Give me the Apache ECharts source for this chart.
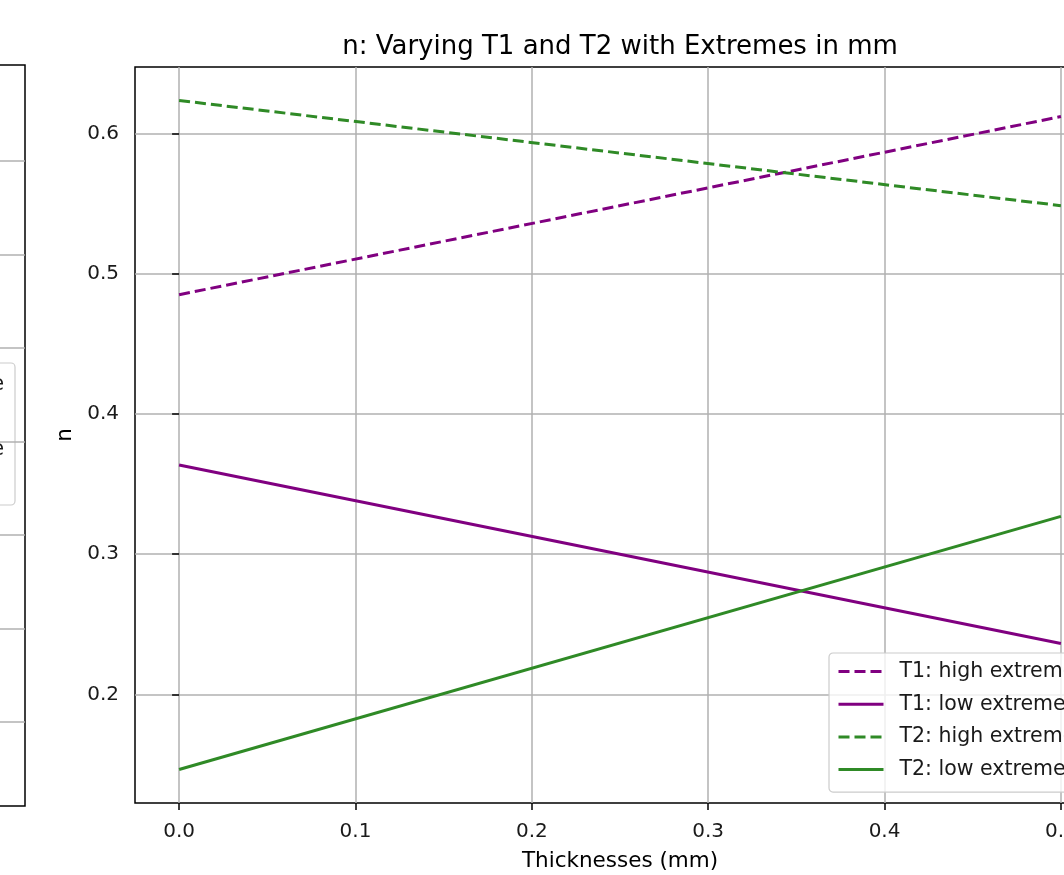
<!DOCTYPE html>
<html>
<head>
<meta charset="utf-8">
<style>html,body{margin:0;padding:0;background:#fff}#chart{width:1064px;height:875px}</style>
<script src="https://cdn.jsdelivr.net/npm/echarts@6/dist/echarts.min.js"></script>
</head>
<body>
<div id="chart"></div>
<script>
// ---- data ----
const thicknesses = [0.0, 0.5];
const t1High = [0.485, 0.612];
const t1Low = [0.3636, 0.2364];
const t2High = [0.6235, 0.5485];
const t2Low = [0.1465, 0.327];
const seriesNames = ['T1: high extreme', 'T1: low extreme', 'T2: high extreme', 'T2: low extreme'];
const xTicks = [0.0, 0.1, 0.2, 0.3, 0.4, 0.5];
const yTicks = [0.2, 0.3, 0.4, 0.5, 0.6];
const leftPanelTicks = [0, 1, 2, 3, 4, 5, 6];
const titleText = 'n: Varying T1 and T2 with Extremes in mm';
const xName = 'Thicknesses (mm)';
const yName = 'n';

const purple = '#800080';
const green = '#2f8a26';
const FONT = 'DejaVu Sans';

function pairs(ys) { return thicknesses.map((x, i) => [x, ys[i]]); }

// matplotlib-style 5% margins
const allY = [].concat(t1High, t1Low, t2High, t2Low);
const yMinD = Math.min(...allY), yMaxD = Math.max(...allY);
const yPad = (yMaxD - yMinD) * 0.05;
const xMinD = Math.min(...thicknesses), xMaxD = Math.max(...thicknesses);
const xPad = (xMaxD - xMinD) * 0.05;

const defs = [
  { name: seriesNames[0], data: t1High, color: purple, dashed: true },
  { name: seriesNames[1], data: t1Low, color: purple, dashed: false },
  { name: seriesNames[2], data: t2High, color: green, dashed: true },
  { name: seriesNames[3], data: t2Low, color: green, dashed: false }
];

const chart = echarts.init(document.getElementById('chart'), null, { renderer: 'canvas' });
chart.setOption({
  animation: false,
  backgroundColor: '#fff',
  textStyle: { fontFamily: FONT },
  title: {
    text: titleText,
    left: 615, top: 29, textAlign: 'center',
    textStyle: { fontFamily: FONT, fontSize: 26, fontWeight: 'normal', color: '#000' }
  },
  grid: [
    { left: 135, width: 970, top: 67, height: 736, outerBoundsMode: 'none', containLabel: false,
      show: true, borderColor: '#000', borderWidth: 1.5, backgroundColor: 'transparent' },
    { left: -600, width: 625, top: 65, height: 741, outerBoundsMode: 'none', containLabel: false,
      show: true, borderColor: '#000', borderWidth: 1.5, backgroundColor: 'transparent' }
  ],
  xAxis: [
    {
      gridIndex: 0, type: 'value',
      min: xMinD - xPad, max: xMaxD + xPad,
      name: xName, nameLocation: 'middle', nameGap: 47,
      nameTextStyle: { fontFamily: FONT, fontSize: 21.5, color: '#000' },
      axisLine: { show: false },
      axisTick: { show: true, length: 7, customValues: xTicks, lineStyle: { color: '#000', width: 1.5 } },
      axisLabel: { customValues: xTicks, margin: 19, fontFamily: FONT, fontSize: 20, color: '#1a1a1a', formatter: v => v.toFixed(1) },
      splitLine: { show: true, lineStyle: { color: '#b0b0b0', width: 1.5 } }
    },
    {
      gridIndex: 1, type: 'value', min: 0, max: 1,
      axisLine: { show: false }, axisTick: { show: false }, axisLabel: { show: false }, splitLine: { show: false }
    }
  ],
  yAxis: [
    {
      gridIndex: 0, type: 'value',
      min: yMinD - yPad, max: yMaxD + yPad,
      name: yName, nameLocation: 'middle', nameGap: 56, nameRotate: 90,
      nameTextStyle: { fontFamily: FONT, fontSize: 21.5, color: '#000' },
      axisLine: { show: false },
      axisTick: { show: true, length: 7, customValues: yTicks, lineStyle: { color: '#000', width: 1.5 } },
      axisLabel: { customValues: yTicks, margin: 16, fontFamily: FONT, fontSize: 20, color: '#1a1a1a', formatter: v => v.toFixed(1) },
      splitLine: { show: true, lineStyle: { color: '#b0b0b0', width: 1.5 } }
    },
    {
      gridIndex: 1, type: 'value', min: -0.9, max: 7.03,
      axisLine: { show: false },
      axisTick: { show: false, customValues: leftPanelTicks },
      axisLabel: { show: false },
      splitLine: { show: true, lineStyle: { color: '#b0b0b0', width: 1.5 } }
    }
  ],
  legend: {
    orient: 'vertical',
    left: 829, top: 653,
    data: seriesNames,
    itemWidth: 45, itemHeight: 14, itemGap: 11.7,
    padding: [8, 12, 12, 8],
    backgroundColor: 'rgba(255,255,255,0.8)',
    borderColor: '#cccccc', borderWidth: 1.2, borderRadius: 4,
    itemStyle: { opacity: 0 },
    lineStyle: { width: 3 },
    textStyle: { fontFamily: FONT, fontSize: 20.5, lineHeight: 21, color: '#1a1a1a', padding: [0, 0, 0, 11] }
  },
  graphic: [
    {
      type: 'group', silent: true,
      children: [
        { type: 'rect', shape: { x: -200, y: 363, width: 215, height: 142, r: 4 },
          style: { fill: 'rgba(255,255,255,0.8)', stroke: '#cccccc', lineWidth: 1.2 } },
        { type: 'text', x: 4, y: 385, style: { text: seriesNames[0], align: 'right', verticalAlign: 'middle', font: '20.5px "DejaVu Sans"', fill: '#1a1a1a' } },
        { type: 'text', x: -6, y: 418, style: { text: seriesNames[1], align: 'right', verticalAlign: 'middle', font: '20.5px "DejaVu Sans"', fill: '#1a1a1a' } },
        { type: 'text', x: 4, y: 450, style: { text: seriesNames[2], align: 'right', verticalAlign: 'middle', font: '20.5px "DejaVu Sans"', fill: '#1a1a1a' } },
        { type: 'text', x: -6, y: 483, style: { text: seriesNames[3], align: 'right', verticalAlign: 'middle', font: '20.5px "DejaVu Sans"', fill: '#1a1a1a' } }
      ]
    }
  ],
  series: defs.map(d => ({
    name: d.name,
    type: 'line',
    xAxisIndex: 0, yAxisIndex: 0,
    data: pairs(d.data),
    symbol: 'none', showSymbol: false,
    color: d.color,
    lineStyle: { color: d.color, width: 3, type: d.dashed ? [11, 5] : 'solid', cap: 'butt' },
    z: 3
  }))
});
</script>
</body>
</html>
